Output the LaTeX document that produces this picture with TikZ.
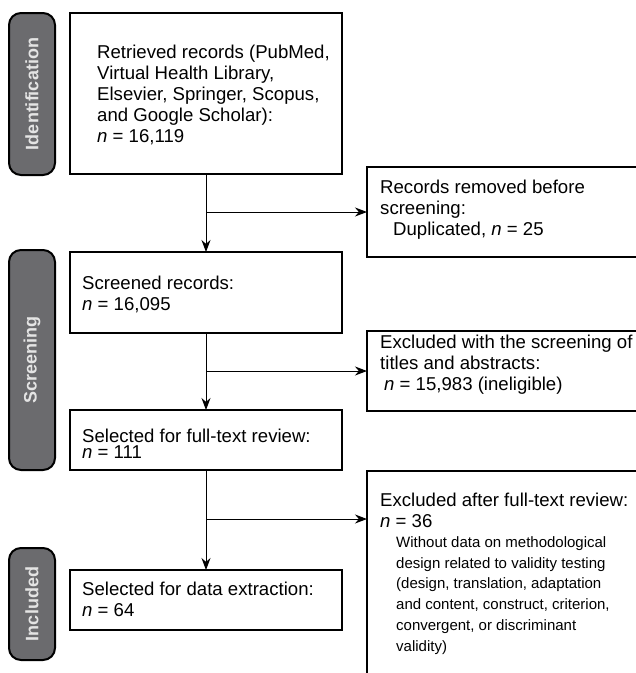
\documentclass[tikz,border=0pt]{standalone}
\usepackage{fontspec}
\setmainfont{Liberation Sans}
\usetikzlibrary{arrows.meta}
\definecolor{phasegray}{HTML}{6B6B6E}
\definecolor{phasetext}{HTML}{E4E4E4}
\begin{document}
\begin{tikzpicture}[x=1pt,y=-1pt,
  box/.style={draw=black, line width=2pt, anchor=north west, inner sep=0pt, outer sep=0pt},
  phase/.style={draw=black, line width=2pt, fill=phasegray, rounded corners=12pt, anchor=north west, inner sep=0pt, outer sep=0pt},
  phasetxt/.style={text=phasetext, font=\fontsize{18}{18}\selectfont\bfseries, rotate=90},
  bigtxt/.style={anchor=north west, inner sep=0pt, align=left, font=\fontsize{18.6}{21}\selectfont},
  tighttxt/.style={anchor=north west, inner sep=0pt, align=left, font=\fontsize{18.6}{16.5}\selectfont},
  smalltxt/.style={anchor=north west, inner sep=0pt, align=left, font=\fontsize{15}{20.7}\selectfont},
  conn/.style={line width=1pt},
  arr/.style={conn, -{Stealth[length=12pt,width=9pt]}}
]
\useasboundingbox (0,0) rectangle (636,673);

% phase labels
\node[phase, minimum width=46pt, minimum height=162pt] (pid) at (9,13) {};
\node[phasetxt] (tid) at (pid.center) {Identification};
\node[phase, minimum width=46pt, minimum height=220pt] (psc) at (9,250) {};
\node[phasetxt] (tsc) at (psc.center) {Screening};
\node[phase, minimum width=46pt, minimum height=112pt] (pin) at (9,548) {};
\node[phasetxt] (tin) at (pin.center) {Included};

% main boxes
\node[box, minimum width=272pt, minimum height=161pt] (b1) at (70,13) {};
\node[bigtxt] (t1) at (97,44.5) {Retrieved records (PubMed,\\Virtual Health Library,\\Elsevier, Springer, Scopus,\\and Google Scholar):\\\textit{n} = 16,119};

\node[box, minimum width=272pt, minimum height=81pt] (b2) at (70,252) {};
\node[bigtxt] (t2) at (82,275.5) {Screened records:\\\textit{n} = 16,095};

\node[box, minimum width=272pt, minimum height=60pt] (b3) at (70,410) {};
\node[tighttxt] (t3) at (82,428.5) {Selected for full-text review:\\\textit{n} = 111};

\node[box, minimum width=272pt, minimum height=60pt] (b4) at (70,570) {};
\node[bigtxt] (t4) at (82,581.5) {Selected for data extraction:\\\textit{n} = 64};

% right boxes
\node[box, minimum width=280pt, minimum height=90pt] (r1) at (367,167) {};
\node[bigtxt] (u1) at (380,179.5) {Records removed before\\screening:\\\hspace{13pt}Duplicated, \textit{n} = 25};

\node[box, minimum width=280pt, minimum height=80pt] (r2) at (367,331) {};
\node[bigtxt] (u2) at (380,335) {Excluded with the screening of\\titles and abstracts:\\\hspace{4pt}\textit{n} = 15,983 (ineligible)};

\node[box, minimum width=280pt, minimum height=230pt] (r3) at (367,471) {};
\node[bigtxt] (u3) at (380,492.5) {Excluded after full-text review:\\\textit{n} = 36};
\node[smalltxt] (u3b) at (396,536.5) {Without data on methodological\\design related to validity testing\\(design, translation, adaptation\\and content, construct, criterion,\\convergent, or discriminant\\validity)};

% connectors
\coordinate (j1) at (b1.south |- r1.west);
\coordinate (j2) at (b2.south |- r2.west);
\coordinate (j3) at (b3.south |- 0,519);
\draw[arr] (b1.south) -- (b2.north);
\draw[arr] (j1) -- (r1.west);
\draw[arr] (b2.south) -- (b3.north);
\draw[arr] (j2) -- (r2.west);
\draw[arr] (b3.south) -- (b4.north);
\draw[arr] (j3) -- (j3 -| r3.west);
\end{tikzpicture}
\end{document}
